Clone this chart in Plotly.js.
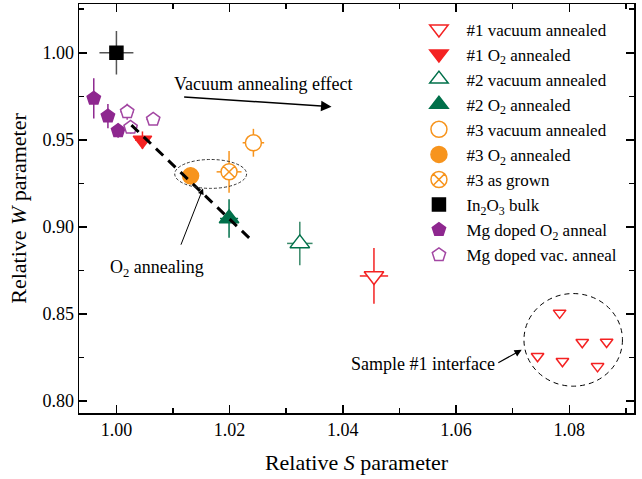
<!DOCTYPE html>
<html>
<head>
<meta charset="utf-8">
<script src="https://cdn.plot.ly/plotly-3.0.1.min.js"></script>
<style>
  html, body { margin: 0; padding: 0; background: #fff; }
  #plot { width: 642px; height: 479px; }
</style>
</head>
<body>
<div id="plot"></div>
<script>
// Relative S and W parameters (normalised to In2O3 bulk)
const bulkS = [1.000], bulkW = [1.000], bulkSe = [0.003], bulkWe = [0.0125];

const s1VacS = [1.0455], s1VacW = [0.8718], s1VacSe = [0.0025], s1VacWe = [0.0160];
const s1O2S = [1.0046], s1O2W = [0.9498], s1O2Se = [0.0013], s1O2We = [0.0050];

const s2VacS = [1.0324], s2VacW = [0.8905], s2VacSe = [0.00225], s2VacWe = [0.0125];
const s2O2S = [1.0199], s2O2W = [0.9048], s2O2Se = [0.0016], s2O2We = [0.0110];

const s3VacS = [1.0242], s3VacW = [0.9483], s3VacSe = [0.0019], s3VacWe = [0.0080];
const s3O2S = [1.0131], s3O2W = [0.9293], s3O2Se = [0.0015], s3O2We = [0.0050];
const s3GrownS = [1.0199], s3GrownW = [0.9316], s3GrownSe = [0.0022], s3GrownWe = [0.0120];

const mgO2S = [0.9960, 0.9985, 1.0003];
const mgO2W = [0.9738, 0.9636, 0.9552];
const mgO2Se = [0.0010, 0.0009, 0.0010];
const mgO2We = [0.0115, 0.0070, 0.0040];

const mgVacS = [1.0019, 1.0025, 1.0065];
const mgVacW = [0.9661, 0.9571, 0.9617];
const mgVacSe = [0.0012, 0.0012, 0.0012];
const mgVacWe = [0.0046, 0.0035, 0.0030];

// Sample #1 interface region
const ifaceS = [1.0783, 1.0744, 1.0788, 1.0823, 1.0866, 1.0850];
const ifaceW = [0.8506, 0.8257, 0.8228, 0.8337, 0.8339, 0.8199];

// Guide line, ellipses and arrows (data coordinates)
const trendS = [1.00265, 1.02374];
const trendW = [0.95845, 0.89276];
const ellipse3S = [1.0103, 1.0230], ellipse3W = [0.9221, 0.9387];
const ifaceCircS = [1.0720, 1.0894], ifaceCircW = [0.8085, 0.8617];

const RED = '#f42222', GREEN = '#00704a', ORANGE = '#f7941d', PURPLE = '#8e278f', PURPLE2 = '#a347a3';
const FONT = 'Liberation Serif, serif';

function errs(se, we, color, w) {
  return {
    error_x: {type: 'data', array: se, visible: true, color: color, thickness: w || 1.5, width: 0},
    error_y: {type: 'data', array: we, visible: true, color: color, thickness: w || 1.5, width: 0}
  };
}

function trace(name, xs, ys, se, we, symbol, size, fill, line, ecolor, extra) {
  return Object.assign({
    type: 'scatter', mode: 'markers', name: name, x: xs, y: ys,
    marker: {symbol: symbol, size: size, color: fill, line: {color: line, width: 1.5}}
  }, se ? errs(se, we, ecolor) : {}, extra || {});
}

const data = [
  trace('#1 vacuum annealed', s1VacS, s1VacW, s1VacSe, s1VacWe, 'triangle-down', 17, '#fff', RED, RED, {legendgroup: 'g1'}),
  trace('#1 O<sub>2</sub> annealed', s1O2S, s1O2W, s1O2Se, s1O2We, 'triangle-down', 16, RED, RED, RED),
  trace('#2 vacuum annealed', s2VacS, s2VacW, s2VacSe, s2VacWe, 'triangle-up', 17, '#fff', GREEN, '#3a8a6a'),
  trace('#2 O<sub>2</sub> annealed', s2O2S, s2O2W, s2O2Se, s2O2We, 'triangle-up', 17, GREEN, GREEN, GREEN),
  trace('#3 vacuum annealed', s3VacS, s3VacW, s3VacSe, s3VacWe, 'circle', 16, '#fff', ORANGE, ORANGE),
  trace('#3 O<sub>2</sub> annealed', s3O2S, s3O2W, s3O2Se, s3O2We, 'circle', 16, ORANGE, ORANGE, ORANGE),
  trace('#3 as grown', s3GrownS, s3GrownW, s3GrownSe, s3GrownWe, 'circle-x', 16, '#fff', ORANGE, ORANGE),
  trace('In<sub>2</sub>O<sub>3</sub> bulk', bulkS, bulkW, bulkSe, bulkWe, 'square', 13, '#000', '#000', '#555'),
  trace('Mg doped O<sub>2</sub> anneal', mgO2S, mgO2W, mgO2Se, mgO2We, 'pentagon', 14, PURPLE, PURPLE, PURPLE),
  trace('Mg doped vac. anneal', mgVacS, mgVacW, mgVacSe, mgVacWe, 'pentagon', 14, '#fff', PURPLE2, PURPLE2),
  trace('#1 interface', ifaceS, ifaceW, null, null, 'triangle-down', 11, '#fff', RED, RED, {legendgroup: 'g1', showlegend: false})
];

const layout = {
  width: 642, height: 479,
  margin: {l: 79, r: 8, t: 4, b: 66},
  paper_bgcolor: '#fff', plot_bgcolor: '#fff',
  font: {family: FONT, size: 17, color: '#000'},
  showlegend: true,
  legend: {
    x: 0.599, y: 0.982, xanchor: 'left', yanchor: 'top',
    bgcolor: 'rgba(0,0,0,0)', borderwidth: 0,
    font: {family: FONT, size: 17, color: '#000'},
    tracegroupgap: 0, itemsizing: 'trace', itemwidth: 45
  },
  xaxis: {
    range: [0.99339, 1.09144], tick0: 1.0, dtick: 0.02, tickformat: '.2f',
    ticks: 'inside', ticklen: 8, tickwidth: 1.5, tickcolor: '#000',
    minor: {dtick: 0.01, ticks: 'inside', ticklen: 5, tickwidth: 1.5, tickcolor: '#000', showgrid: false},
    showline: true, linewidth: 1.5, linecolor: '#000', mirror: 'ticks',
    showgrid: false, zeroline: false,
    tickfont: {family: FONT, size: 18},
    title: {text: 'Relative <i>S</i> parameter', font: {family: FONT, size: 22}, standoff: 15}
  },
  yaxis: {
    range: [0.7931, 1.028], tick0: 0.8, dtick: 0.05, tickformat: '.2f',
    ticks: 'inside', ticklen: 8, tickwidth: 1.5, tickcolor: '#000',
    minor: {dtick: 0.025, ticks: 'inside', ticklen: 5, tickwidth: 1.5, tickcolor: '#000', showgrid: false},
    showline: true, linewidth: 1.5, linecolor: '#000', mirror: 'ticks',
    showgrid: false, zeroline: false,
    tickfont: {family: FONT, size: 18},
    title: {text: 'Relative <i>W</i> parameter', font: {family: FONT, size: 22}, standoff: 9}
  },
  shapes: [
    {type: 'line', xref: 'x', yref: 'y', x0: trendS[0], y0: trendW[0], x1: trendS[1], y1: trendW[1],
     line: {color: '#000', width: 3, dash: '10px,7px'}},
    {type: 'circle', xref: 'x', yref: 'y', x0: ellipse3S[0], y0: ellipse3W[0], x1: ellipse3S[1], y1: ellipse3W[1],
     line: {color: '#333', width: 1, dash: '3px,2px'}},
    {type: 'circle', xref: 'x', yref: 'y', x0: ifaceCircS[0], y0: ifaceCircW[0], x1: ifaceCircS[1], y1: ifaceCircW[1],
     line: {color: '#000', width: 1, dash: '5px,4px'}}
  ],
  annotations: [
    {text: 'Vacuum annealing effect', xref: 'x', yref: 'y', x: 1.0259, y: 0.9820, showarrow: false,
     font: {family: FONT, size: 18}},
    {text: '', xref: 'x', yref: 'y', axref: 'x', ayref: 'y', x: 1.0380, y: 0.9690, ax: 1.0117, ay: 0.9747,
     showarrow: true, arrowhead: 2, arrowsize: 1.4, arrowwidth: 1.5, arrowcolor: '#000'},
    {text: 'O<sub>2</sub> annealing', xref: 'x', yref: 'y', x: 1.0071, y: 0.8763, showarrow: false,
     font: {family: FONT, size: 18}},
    {text: '', xref: 'x', yref: 'y', axref: 'x', ayref: 'y', x: 1.0153, y: 0.9221, ax: 1.0113, ay: 0.8889,
     showarrow: true, arrowhead: 2, arrowsize: 1.2, arrowwidth: 1, arrowcolor: '#000'},
    {text: 'Sample #1 interface', xref: 'x', yref: 'y', x: 1.0542, y: 0.8211, showarrow: false,
     font: {family: FONT, size: 18}},
    {text: '', xref: 'x', yref: 'y', axref: 'x', ayref: 'y', x: 1.0716, y: 0.8294, ax: 1.0672, ay: 0.8215,
     showarrow: true, arrowhead: 2, arrowsize: 1.2, arrowwidth: 1.2, arrowcolor: '#000'}
  ]
};

Plotly.newPlot('plot', data, layout, {displayModeBar: false, staticPlot: true});
</script>
</body>
</html>
